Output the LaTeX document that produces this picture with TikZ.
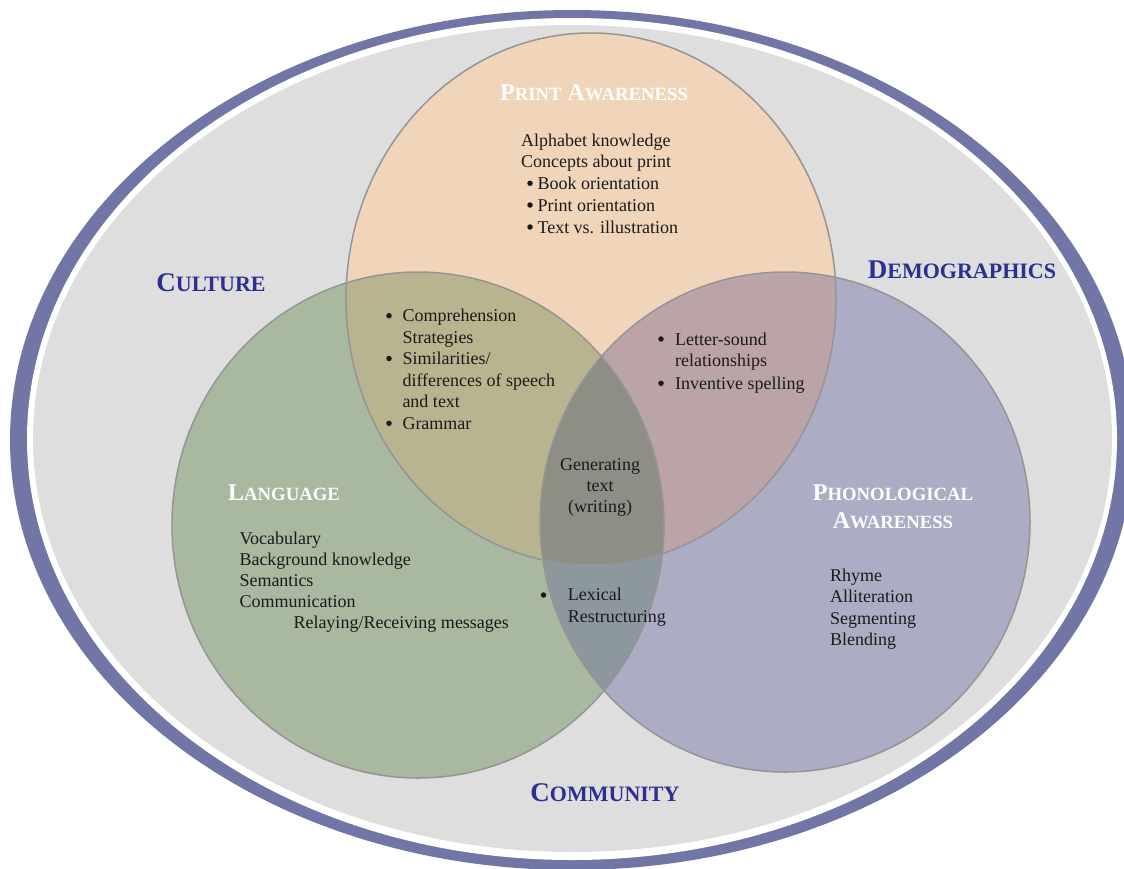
\documentclass[tikz,border=0pt]{standalone}
\usepackage{fontspec}
\setmainfont{Liberation Serif}
\definecolor{bgray}{HTML}{DEDEDE}
\definecolor{ring}{HTML}{7276A6}
\definecolor{corange}{HTML}{F0D5BA}
\definecolor{cgreen}{HTML}{A9B99F}
\definecolor{cpurple}{HTML}{ACACC5}
\definecolor{cog}{HTML}{B8B48F}
\definecolor{cop}{HTML}{BBA4A8}
\definecolor{cgp}{HTML}{8C989D}
\definecolor{cogp}{HTML}{8F8E86}
\definecolor{outl}{HTML}{959595}
\definecolor{ctxblue}{HTML}{2B3090}
\definecolor{txtc}{HTML}{1A1A1A}
\newcommand\hdrsc[2]{{\fontsize{24}{28}\selectfont #1}{\fontsize{18.7}{22}\selectfont #2}}
\newcommand\ctxsc[2]{{\fontsize{27}{30}\selectfont #1}{\fontsize{22}{26}\selectfont #2}}
\newcommand\ellO{(591,299) ellipse [x radius=245pt, y radius=266pt]}
\newcommand\ellG{(418,525) ellipse [x radius=246pt, y radius=253pt]}
\newcommand\ellP{(785,522) ellipse [x radius=245pt, y radius=250pt]}
\tikzset{
 lst/.style={font=\fontsize{18}{21.5}\selectfont, inner sep=0pt, anchor=base west, text=txtc},
 cen/.style={font=\fontsize{18}{21.5}\selectfont, inner sep=0pt, anchor=base, text=txtc},
 hdr/.style={font=\bfseries, inner sep=0pt, anchor=base, text=white},
 ctx/.style={font=\bfseries, inner sep=0pt, anchor=base, text=ctxblue},
 bul/.style={circle, fill=txtc, inner sep=0pt, minimum size=5.5pt},
 outline/.style={draw=outl, line width=1.5pt},
}
\begin{document}
\begin{tikzpicture}[x=1pt,y=-1pt]
\useasboundingbox (0,0) rectangle (1124,868);
\clip (0,0) rectangle (1124,868);
\fill[white] (0,0) rectangle (1124,868);
% outer frame
\fill[ring] (572,440) ellipse [x radius=562pt, y radius=430pt];
\fill[white] (572,439) ellipse [x radius=545pt, y radius=421pt];
\fill[bgray] (572.5,438.5) ellipse [x radius=539.5pt, y radius=413.5pt];
% circles
\fill[corange] \ellO;
\fill[cgreen] \ellG;
\fill[cpurple] \ellP;
\begin{scope}\clip \ellO; \fill[cog] \ellG; \end{scope}
\begin{scope}\clip \ellO; \fill[cop] \ellP; \end{scope}
\begin{scope}\clip \ellG; \fill[cgp] \ellP; \end{scope}
\begin{scope}\clip \ellO; \clip \ellG; \fill[cogp] \ellP; \end{scope}
\draw[outline] \ellO;
\draw[outline] \ellG;
\draw[outline] \ellP;
% context labels
\node[ctx] (culture) at (211,291.7) {\ctxsc{C}{ULTURE}};
\node[ctx] (demo) at (962,278.3) {\ctxsc{D}{EMOGRAPHICS}};
\node[ctx] (comm) at (605,801.7) {\ctxsc{C}{OMMUNITY}};
% print awareness
\node[hdr] (pah) at (594,100.7) {\hdrsc{P}{RINT}\hdrsc{\ A}{WARENESS}};
\node[lst] (pa1) at (521,146) {Alphabet knowledge};
\node[lst] (pa2) at (521,167.5) {Concepts about print};
\node[bul] (pb1) at (530,183.3) {};
\node[lst] (pa3) at (537.3,189.3) {Book orientation};
\node[bul] (pb2) at (530,205) {};
\node[lst] (pa4) at (537.3,211) {Print orientation};
\node[bul] (pb3) at (530,227) {};
\node[lst] (pa5) at (537.3,233) {Text vs. illustration};
% print & language
\node[bul] (ogb1) at (389,315.7) {};
\node[lst] (og1) at (402.3,321.7) {Comprehension};
\node[lst] (og2) at (402.3,343) {Strategies};
\node[bul] (ogb2) at (389,358.5) {};
\node[lst] (og3) at (402.3,364.5) {Similarities/};
\node[lst] (og4) at (402.3,386) {differences of speech};
\node[lst] (og5) at (402.3,407.5) {and text};
\node[bul] (ogb3) at (389,423.3) {};
\node[lst] (og6) at (402.3,429.3) {Grammar};
% print & phonological
\node[bul] (opb1) at (661,339) {};
\node[lst] (op1) at (675,345) {Letter-sound};
\node[lst] (op2) at (675,366.7) {relationships};
\node[bul] (opb2) at (661,383.3) {};
\node[lst] (op3) at (675,389.3) {Inventive spelling};
% center
\node[cen] (c1) at (600,470) {Generating};
\node[cen] (c2) at (600,491) {text};
\node[cen] (c3) at (600,512) {(writing)};
% language
\node[hdr] (lah) at (284,500) {\hdrsc{L}{ANGUAGE}};
\node[lst] (la1) at (239.3,544) {Vocabulary};
\node[lst] (la2) at (239.3,565) {Background knowledge};
\node[lst] (la3) at (239.3,586) {Semantics};
\node[lst] (la4) at (239.3,607.3) {Communication};
\node[lst] (la5) at (293.3,628.3) {Relaying/Receiving messages};
% language & phonological
\node[bul] (gpb) at (543.5,595) {};
\node[lst] (gp1) at (567.7,600.7) {Lexical};
\node[lst] (gp2) at (567.7,622.7) {Restructuring};
% phonological
\node[hdr] (ph1) at (893,500.7) {\hdrsc{P}{HONOLOGICAL}};
\node[hdr] (ph2) at (893,528.3) {\hdrsc{A}{WARENESS}};
\node[lst] (p1) at (830,581.7) {Rhyme};
\node[lst] (p2) at (830,602.3) {Alliteration};
\node[lst] (p3) at (830,624) {Segmenting};
\node[lst] (p4) at (830,645.7) {Blending};
\end{tikzpicture}
\end{document}
